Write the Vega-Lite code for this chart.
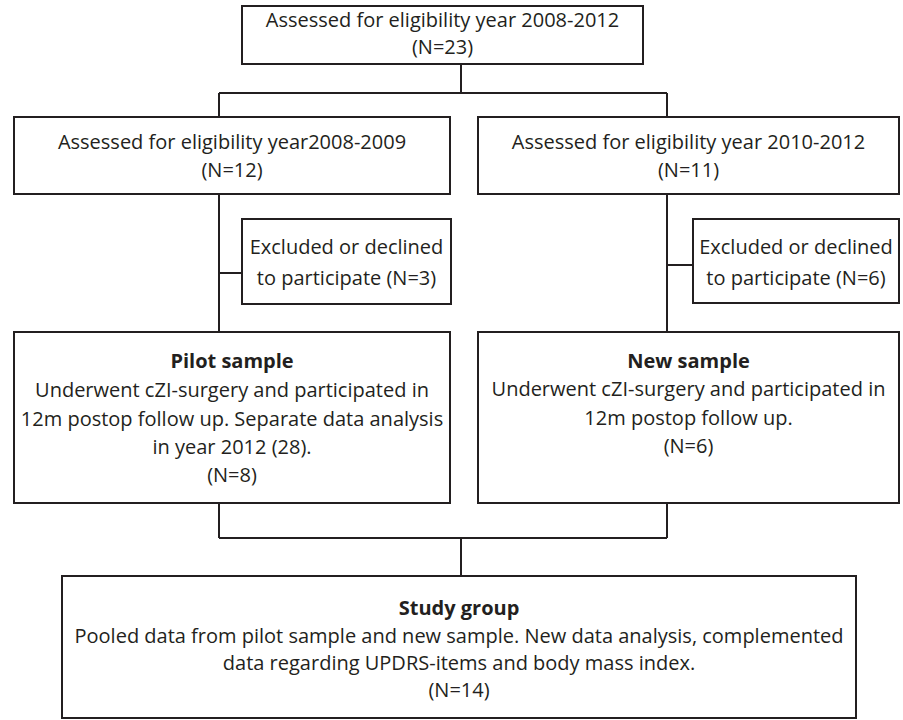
{
  "$schema": "https://vega.github.io/schema/vega-lite/v6.json",
  "width": 903,
  "height": 720,
  "autosize": {"type": "fit", "contains": "padding"},
  "padding": 0,
  "background": "white",
  "view": {"stroke": null},
  "config": {"font": "Open Sans"},
  "datasets": {
    "boxes": [
      {"id": "top", "x1": 242, "x2": 643, "y1": 6, "y2": 64},
      {"id": "midL", "x1": 14, "x2": 450, "y1": 117, "y2": 194},
      {"id": "midR", "x1": 478, "x2": 899, "y1": 117, "y2": 194},
      {"id": "exL", "x1": 242, "x2": 451, "y1": 219, "y2": 304},
      {"id": "exR", "x1": 693, "x2": 899, "y1": 219, "y2": 303},
      {"id": "pilot", "x1": 14, "x2": 450, "y1": 332, "y2": 503},
      {"id": "new", "x1": 478, "x2": 899, "y1": 332, "y2": 503},
      {"id": "study", "x1": 62, "x2": 856, "y1": 576, "y2": 718}
    ],
    "links": [
      {"x1": 461, "y1": 64, "x2": 461, "y2": 93},
      {"x1": 219, "y1": 93, "x2": 667, "y2": 93},
      {"x1": 219, "y1": 93, "x2": 219, "y2": 117},
      {"x1": 667, "y1": 93, "x2": 667, "y2": 117},
      {"x1": 219, "y1": 194, "x2": 219, "y2": 332},
      {"x1": 667, "y1": 194, "x2": 667, "y2": 332},
      {"x1": 219, "y1": 273, "x2": 242, "y2": 273},
      {"x1": 667, "y1": 265, "x2": 693, "y2": 265},
      {"x1": 219, "y1": 503, "x2": 219, "y2": 538},
      {"x1": 667, "y1": 503, "x2": 667, "y2": 538},
      {"x1": 219, "y1": 538, "x2": 667, "y2": 538},
      {"x1": 461, "y1": 538, "x2": 461, "y2": 576}
    ],
    "labels": [
      {"kind": "body", "x": 442.5, "y": 21, "text": "Assessed for eligibility year 2008-2012"},
      {"kind": "body", "x": 442.5, "y": 48, "text": "(N=23)"},
      {"kind": "body", "x": 232, "y": 143, "text": "Assessed for eligibility year2008-2009"},
      {"kind": "body", "x": 232, "y": 171, "text": "(N=12)"},
      {"kind": "body", "x": 688.5, "y": 143, "text": "Assessed for eligibility year 2010-2012"},
      {"kind": "body", "x": 688.5, "y": 171, "text": "(N=11)"},
      {"kind": "body", "x": 346.5, "y": 248, "text": "Excluded or declined"},
      {"kind": "body", "x": 346.5, "y": 279, "text": "to participate (N=3)"},
      {"kind": "body", "x": 796, "y": 248, "text": "Excluded or declined"},
      {"kind": "body", "x": 796, "y": 279, "text": "to participate (N=6)"},
      {"kind": "title", "x": 232, "y": 362, "text": "Pilot sample"},
      {"kind": "body", "x": 232, "y": 391, "text": "Underwent cZI-surgery and participated in"},
      {"kind": "body", "x": 232, "y": 420, "text": "12m postop follow up. Separate data analysis"},
      {"kind": "body", "x": 232, "y": 448, "text": "in year 2012 (28)."},
      {"kind": "body", "x": 232, "y": 476, "text": "(N=8)"},
      {"kind": "title", "x": 688.5, "y": 362, "text": "New sample"},
      {"kind": "body", "x": 688.5, "y": 390, "text": "Underwent cZI-surgery and participated in"},
      {"kind": "body", "x": 688.5, "y": 419, "text": "12m postop follow up."},
      {"kind": "body", "x": 688.5, "y": 447, "text": "(N=6)"},
      {"kind": "title", "x": 459, "y": 609, "text": "Study group"},
      {"kind": "body", "x": 459, "y": 637, "text": "Pooled data from pilot sample and new sample. New data analysis, complemented"},
      {"kind": "body", "x": 459, "y": 664, "text": "data regarding UPDRS-items and body mass index."},
      {"kind": "body", "x": 459, "y": 691, "text": "(N=14)"}
    ]
  },
  "layer": [
    {
      "data": {"name": "links"},
      "mark": {"type": "rule", "stroke": "#231f20", "strokeWidth": 2},
      "encoding": {
        "x": {"field": "x1", "type": "quantitative", "scale": {"domain": [0, 903], "nice": false, "zero": false}, "axis": null},
        "y": {"field": "y1", "type": "quantitative", "scale": {"domain": [0, 720], "nice": false, "zero": false, "reverse": true}, "axis": null},
        "x2": {"field": "x2"},
        "y2": {"field": "y2"}
      }
    },
    {
      "data": {"name": "boxes"},
      "mark": {"type": "rect", "fill": "white", "stroke": "#231f20", "strokeWidth": 2},
      "encoding": {
        "x": {"field": "x1", "type": "quantitative", "axis": null},
        "x2": {"field": "x2"},
        "y": {"field": "y1", "type": "quantitative", "axis": null},
        "y2": {"field": "y2"}
      }
    },
    {
      "data": {"name": "labels"},
      "transform": [{"filter": "datum.kind === 'body'"}],
      "mark": {"type": "text", "font": "Open Sans", "fontSize": 20, "color": "#231f20", "align": "center", "baseline": "middle"},
      "encoding": {
        "x": {"field": "x", "type": "quantitative", "axis": null},
        "y": {"field": "y", "type": "quantitative", "axis": null},
        "text": {"field": "text"}
      }
    },
    {
      "data": {"name": "labels"},
      "transform": [{"filter": "datum.kind === 'title'"}],
      "mark": {"type": "text", "font": "Open Sans", "fontSize": 20, "fontWeight": "bold", "color": "#231f20", "align": "center", "baseline": "middle"},
      "encoding": {
        "x": {"field": "x", "type": "quantitative", "axis": null},
        "y": {"field": "y", "type": "quantitative", "axis": null},
        "text": {"field": "text"}
      }
    }
  ]
}
